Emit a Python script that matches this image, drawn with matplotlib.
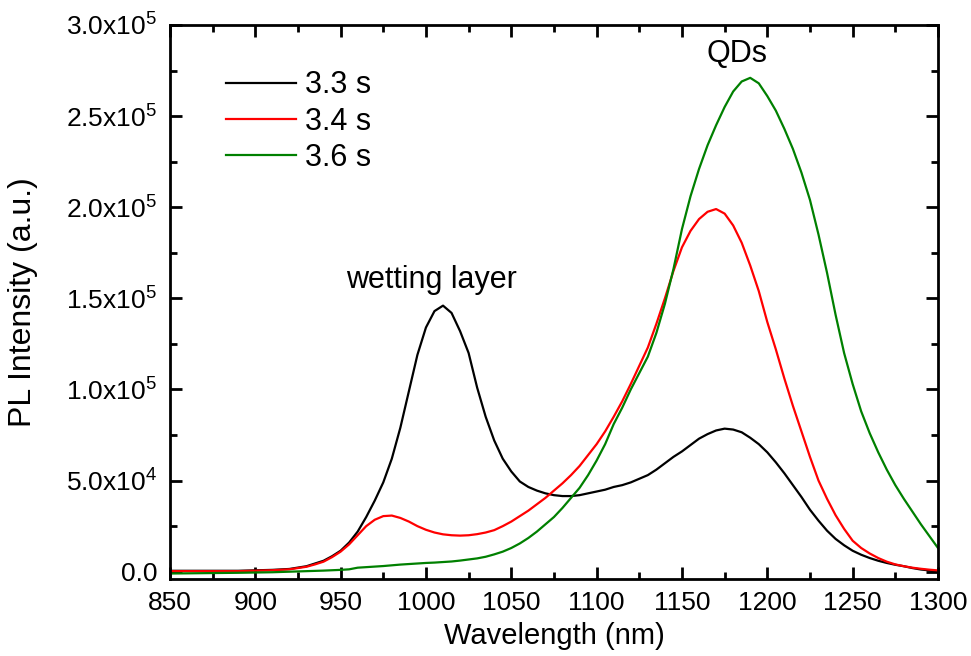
import matplotlib
matplotlib.use('Agg')
import matplotlib.pyplot as plt
from matplotlib.ticker import MultipleLocator, FuncFormatter

plt.rcParams['font.family'] = ['Liberation Sans', 'DejaVu Sans']
plt.rcParams['mathtext.fontset'] = 'custom'
plt.rcParams['mathtext.rm'] = 'Liberation Sans'
plt.rcParams['mathtext.it'] = 'Liberation Sans:italic'

# wavelength grid (nm)
wavelength = [850, 870, 890, 910, 920,
              930, 935, 940, 945, 950, 955, 960, 965, 970, 975,
              980, 985, 990, 995, 1000, 1005, 1010, 1015, 1020, 1025,
              1030, 1035, 1040, 1045, 1050, 1055, 1060, 1065, 1070, 1075,
              1080, 1085, 1090, 1095, 1100, 1105, 1110, 1115, 1120, 1125,
              1130, 1135, 1140, 1145, 1150, 1155, 1160, 1165, 1170, 1175,
              1180, 1185, 1190, 1195, 1200, 1205, 1210, 1215, 1220, 1225,
              1230, 1235, 1240, 1245, 1250, 1255, 1260, 1265, 1270, 1275,
              1280, 1285, 1290, 1295, 1300]

# PL intensity, units of 1e3 a.u.
pl_33 = [0.5, 0.5, 0.5, 1, 1.5,
         3, 4.5, 6, 8.5, 11.5, 16, 22, 30, 39, 49,
         62, 79, 99, 119, 134, 143, 146, 142, 132, 120,
         101, 85, 72, 62, 55, 49.5, 46.5, 44.5, 43, 42,
         41.5, 41.5, 42, 43, 44, 45, 46.5, 47.5, 49, 51,
         53, 56, 59.5, 63, 66, 69.5, 73, 75.5, 77.5, 78.5,
         78, 76.5, 73.5, 70, 65.5, 60, 54, 47.5, 41, 34,
         28, 22.5, 18, 14.5, 11.5, 9.3, 7.5, 6, 4.8, 3.8,
         3, 2, 1.2, 0.7, 0.3]
pl_34 = [0.3, 0.3, 0.3, 0.8, 1.3,
         2.7, 4, 5.5, 8, 11, 15, 20, 25, 28.5, 30.5,
         30.8, 29.5, 27.5, 25, 23, 21.5, 20.5, 20, 19.8, 20,
         20.6, 21.5, 22.8, 25, 27.5, 30.5, 33.5, 37, 40.5, 44.5,
         48.5, 53, 58, 64, 70, 77, 85, 93.5, 103, 113,
         123, 136, 150, 165, 178, 187, 193.5, 197.5, 199, 196.5,
         190, 180.5, 168, 154, 137, 122, 106, 91, 77, 63,
         50, 40, 31, 23.5, 17, 13, 10, 7.5, 5.5, 4,
         3, 2.2, 1.6, 1.1, 0.7]
pl_36 = [-1, -0.8, -0.6, -0.3, 0,
         0.3, 0.45, 0.6, 0.8, 1, 1.3, 2.2, 2.5, 2.8, 3.1,
         3.5, 3.9, 4.2, 4.5, 4.8, 5, 5.3, 5.6, 6.1, 6.7,
         7.3, 8.2, 9.5, 11, 13, 15.5, 18.5, 22, 26, 30,
         35, 40.5, 46, 53, 61, 70, 81, 90, 100, 109,
         118, 131, 147, 166, 188, 206, 221, 234, 245, 255,
         263.5, 269, 271, 268, 261, 253, 243, 232, 219, 204,
         185, 164, 141, 120, 103, 88, 76, 65.5, 56, 47.5,
         40, 33, 26, 19.5, 13]

labels = ['3.3 s', '3.4 s', '3.6 s']
colors = ['black', '#ff0000', '#008000']


def sci_fmt(v, pos):
    if abs(v) < 1e-9:
        return '0.0'
    exp = 5 if v >= 1e5 else 4
    return '%.1fx10$^{%d}$' % (v / 10**exp, exp)


fig = plt.figure(figsize=(9.71, 6.56), dpi=100)
ax = fig.add_axes([0.175, 0.1174, 0.791, 0.8445])

for ys, lab, col in zip([pl_33, pl_34, pl_36], labels, colors):
    ax.plot(wavelength, [v * 1e3 for v in ys], color=col, lw=1.6, label=lab)

ax.set_xlim(850, 1300)
ax.set_ylim(-4000, 3.0e5)
ax.xaxis.set_major_locator(MultipleLocator(50))
ax.xaxis.set_minor_locator(MultipleLocator(25))
ax.yaxis.set_major_locator(MultipleLocator(5e4))
ax.yaxis.set_minor_locator(MultipleLocator(2.5e4))
ax.yaxis.set_major_formatter(FuncFormatter(sci_fmt))

for s in ax.spines.values():
    s.set_linewidth(2)
ax.tick_params(which='both', direction='in', top=True, right=True, width=2, labelsize=19)
ax.tick_params(which='major', length=8.5, pad=9)
ax.tick_params(which='minor', length=5)

ax.set_xlabel('Wavelength (nm)', fontsize=21, labelpad=5)
ax.set_ylabel('PL Intensity (a.u.)', fontsize=23, labelpad=20)

ax.text(1003, 1.6e5, 'wetting layer', fontsize=22, ha='center', va='center')
ax.text(1182, 2.84e5, 'QDs', fontsize=22, ha='center', va='center')

ax.legend(loc='upper left', bbox_to_anchor=(0.057, 0.94), frameon=False,
          fontsize=22, handlelength=2.3, handletextpad=0.3, labelspacing=0.2,
          borderaxespad=0)

fig.savefig('out.png', dpi=100)
